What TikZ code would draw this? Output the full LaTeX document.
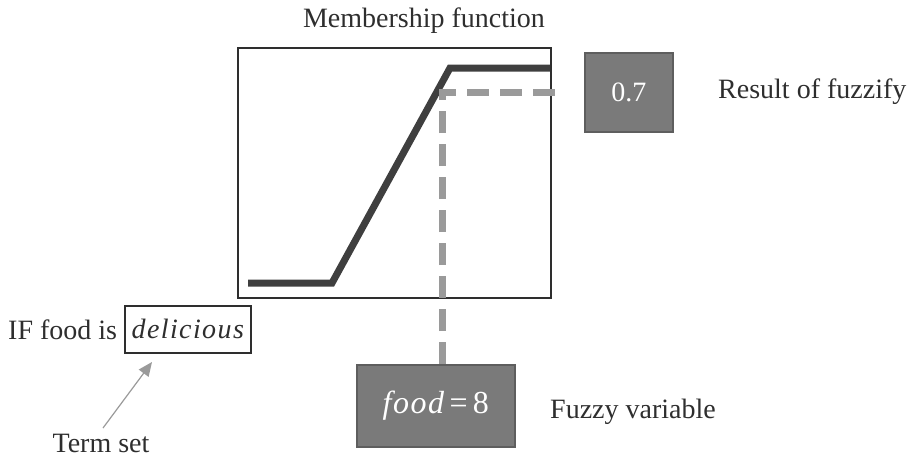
\documentclass[tikz,border=0pt]{standalone}
\usepackage{fontspec}
\setmainfont{Liberation Serif}
\usetikzlibrary{arrows.meta}
\definecolor{curvegray}{HTML}{3F3F3F}
\definecolor{dashgray}{HTML}{9A9A9A}
\definecolor{boxgray}{HTML}{7A7A7A}
\definecolor{edgegray}{HTML}{5E5E5E}
\definecolor{txtgray}{HTML}{2E2E2E}
\tikzset{
  label text/.style={font=\fontsize{28}{32}\selectfont, text=txtgray, inner sep=0pt},
  value box/.style={draw=edgegray, line width=1.5pt, fill=boxgray, text=white,
    font=\fontsize{28}{32}\selectfont},
  frame/.style={draw=txtgray, line width=1.6pt},
}
\newcommand{\wideit}[1]{{\itshape\addfontfeature{LetterSpace=5}#1}}
\begin{document}
\begin{tikzpicture}[x=1pt,y=-1pt]
\useasboundingbox (0,0) rectangle (921,461);
% membership function frame
\node[frame, minimum width=313pt, minimum height=250pt, anchor=north west] (mf) at (237,47) {};
\node[label text] (mftitle) at (424,21) {Membership function};
% membership curve
\coordinate (c0) at (248,283);
\coordinate (c1) at (332,283);
\coordinate (c2) at (450,68);
\coordinate (c3) at (550,68);
\draw[curvegray, line width=7pt, line join=miter] (c0) -- (c1) -- (c2) -- (c3);
% result and variable boxes
\node[value box, minimum width=88pt, minimum height=79pt, anchor=north west] (res) at (584,52) {0.7};
\node[label text, anchor=west] (reslbl) at (718,92) {Result of fuzzify};
\node[value box, minimum width=158pt, minimum height=82pt, anchor=north west,
  font=\fontsize{32}{36}\selectfont] (var) at (356,364) {\wideit{food}\,=\,8};
\node[label text, anchor=west] (varlbl) at (550,412) {Fuzzy variable};
% projection of the input onto the membership grade
\coordinate (corner) at (442,92);
\coordinate (dashend) at (560,92);
\draw[dashgray, line width=7pt, dash pattern=on 22pt off 11pt] (var.north -| corner) -- (corner) -- (dashend);
% rule text
\node[label text, anchor=west] (rule) at (8,330) {IF food is};
\node[frame, minimum width=126pt, minimum height=47pt, anchor=north west, label text, inner sep=0pt] (term) at (124,305) {\wideit{delicious}};
\node[label text] (termlbl) at (101,443) {Term set};
\draw[dashgray, line width=1.2pt, -{Triangle[length=14pt,width=12pt]}] (103,428) -- (152,362);
\end{tikzpicture}
\end{document}
